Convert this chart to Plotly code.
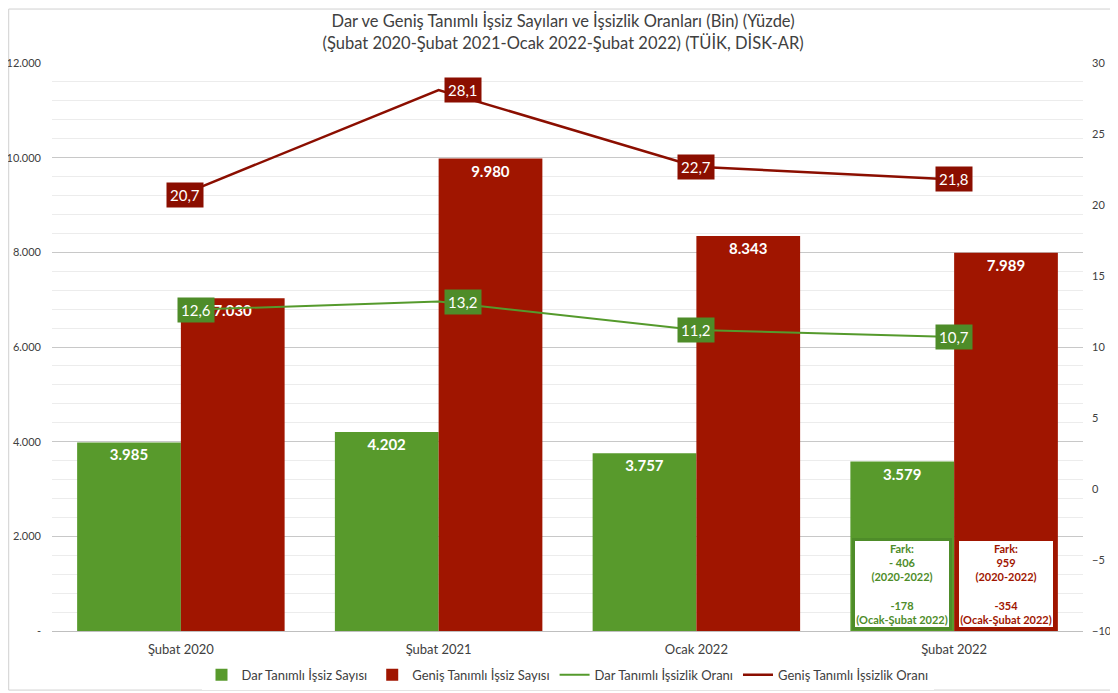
import plotly.graph_objects as go

# Kategoriler ve veriler (Bin / Yüzde)
donemler = ["Şubat 2020", "Şubat 2021", "Ocak 2022", "Şubat 2022"]
dar_issiz = [3985, 4202, 3757, 3579]
genis_issiz = [7030, 9980, 8343, 7989]
dar_oran = [12.6, 13.2, 11.2, 10.7]
genis_oran = [20.7, 28.1, 22.7, 21.8]

sol_tick_vals = [0, 2000, 4000, 6000, 8000, 10000, 12000]
sol_tick_text = ["-", "2.000", "4.000", "6.000", "8.000", "10.000", "12.000"]

fark_dar = "Fark:<br>- 406<br>(2020-2022)<br><br>-178<br>(Ocak-Şubat 2022)"
fark_genis = "Fark:<br>959<br>(2020-2022)<br><br>-354<br>(Ocak-Şubat 2022)"

YESIL = "#589a2c"
KIRMIZI = "#a01500"
YESIL_CIZGI = "#559a2c"
KIRMIZI_CIZGI = "#8b0e00"
FONT = "Lato"


def binlik(v):
    return f"{v:,}".replace(",", ".")


def ondalik(v):
    return f"{v:.1f}".replace(".", ",")


fig = go.Figure()

fig.add_trace(go.Bar(
    x=donemler, y=dar_issiz, name="Dar Tanımlı İşsiz Sayısı",
    marker_color=YESIL, marker_line_width=0,
    text=[binlik(v) for v in dar_issiz], textposition="inside",
    insidetextanchor="end", textangle=0,
    textfont=dict(color="white", size=15, family=FONT, weight="bold"),
))
fig.add_trace(go.Bar(
    x=donemler, y=genis_issiz, name="Geniş Tanımlı İşsiz Sayısı",
    marker_color=KIRMIZI, marker_line_width=0,
    text=[binlik(v) for v in genis_issiz], textposition="inside",
    insidetextanchor="end", textangle=0,
    textfont=dict(color="white", size=15, family=FONT, weight="bold"),
))
fig.add_trace(go.Scatter(
    x=donemler, y=dar_oran, name="Dar Tanımlı İşsizlik Oranı",
    mode="lines", line=dict(color=YESIL_CIZGI, width=2), yaxis="y2",
))
fig.add_trace(go.Scatter(
    x=donemler, y=genis_oran, name="Geniş Tanımlı İşsizlik Oranı",
    mode="lines", line=dict(color=KIRMIZI_CIZGI, width=2.5), yaxis="y2",
))

# çizgi etiketleri (renkli kutular)
etiket_yer = {
    "dar": [("left", -4), ("left", 5), ("center", 0), ("center", 0)],
    "genis": [("center", 4), ("left", 5), ("center", 0), ("center", 0)],
}
for oranlar, renk, key in [(dar_oran, "#4e8c29", "dar"),
                           (genis_oran, KIRMIZI_CIZGI, "genis")]:
    for d, v, (a, s) in zip(donemler, oranlar, etiket_yer[key]):
        fig.add_annotation(
            x=d, y=v, yref="y2", text=ondalik(v), showarrow=False,
            xanchor=a, yanchor="middle", xshift=s,
            bgcolor=renk, borderpad=3,
            font=dict(color="white", size=15, family=FONT),
        )

# Fark kutuları
for metin, renk, anchor, shift in [(fark_dar, "#4e8c29", "right", -2),
                                   (fark_genis, KIRMIZI, "left", 2)]:
    fig.add_annotation(
        x=donemler[-1], y=0, yref="y", text=metin, showarrow=False,
        xanchor=anchor, yanchor="bottom", xshift=shift, yshift=1,
        width=94, height=86, align="center", valign="middle",
        bgcolor="white", bordercolor=renk, borderwidth=3, borderpad=0,
        font=dict(color=renk, size=11, family=FONT, weight="bold"),
    )

fig.update_layout(
    width=1118, height=693,
    paper_bgcolor="white", plot_bgcolor="white",
    font=dict(family=FONT, color="#404040"),
    title=dict(
        text="Dar ve Geniş Tanımlı İşsiz Sayıları ve İşsizlik Oranları (Bin) (Yüzde)"
             "<br>(Şubat 2020-Şubat 2021-Ocak 2022-Şubat 2022) (TÜİK, DİSK-AR)",
        x=0.4965, xanchor="center", y=0.9725, yanchor="middle",
        font=dict(size=16.5, color="#404040", family=FONT),
    ),
    margin=dict(l=44, r=43, t=55, b=70, autoexpand=False),
    barmode="group", bargap=0.195, bargroupgap=0,
    separators=",.",
    xaxis=dict(
        showgrid=False, showline=True, linecolor="#bfbfbf", linewidth=1,
        tickfont=dict(size=13, color="#404040"), ticks="", automargin=False,
        ticklabelstandoff=6,
    ),
    yaxis=dict(
        range=[0, 12000], tickvals=sol_tick_vals, ticktext=sol_tick_text,
        showgrid=True, gridcolor="#c8c8c8", gridwidth=1, zeroline=False,
        tickfont=dict(size=11, color="#404040"), automargin=False,
        ticklabelstandoff=10,
        minor=dict(dtick=400, showgrid=True, gridcolor="#ececec", gridwidth=1),
    ),
    yaxis2=dict(
        overlaying="y", side="right", range=[-10, 30], dtick=5,
        showgrid=False, zeroline=False, automargin=False,
        tickfont=dict(size=11, color="#404040"), ticklabelstandoff=8,
    ),
    legend=dict(
        orientation="h", x=0.5, xanchor="center", y=-0.077, yanchor="middle",
        font=dict(size=13, color="#404040"), traceorder="normal",
    ),
    showlegend=True,
)

# çerçeve
fig.add_shape(
    type="rect", xref="paper", yref="paper",
    x0=-0.042, x1=1.031, y0=-0.104, y1=1.095,
    line=dict(color="#d0d0d0", width=1), fillcolor="rgba(0,0,0,0)", layer="below",
)

fig.write_html("out.html")
